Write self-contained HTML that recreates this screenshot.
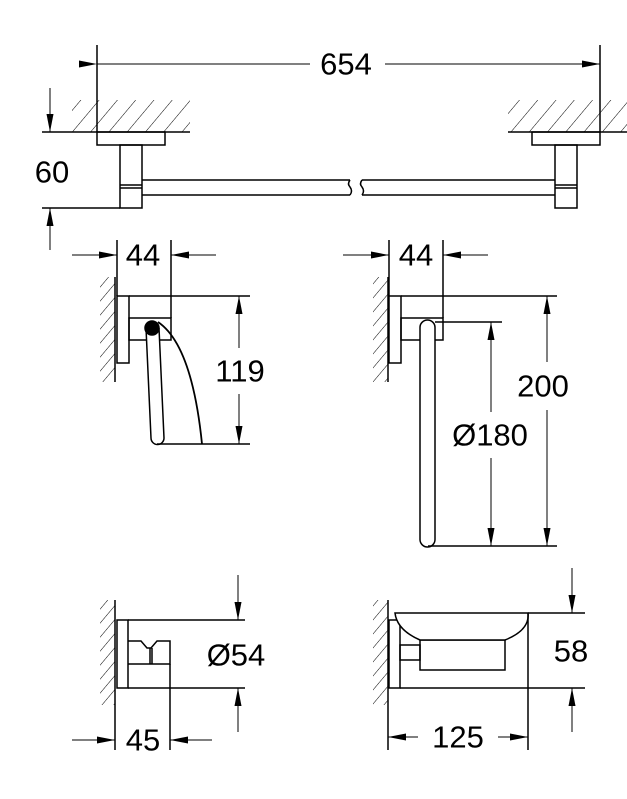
<!DOCTYPE html>
<html><head><meta charset="utf-8"><style>
html,body{margin:0;padding:0;background:#fff;}
svg{display:block;}
text{font-family:"Liberation Sans",sans-serif;font-size:31px;fill:#000;text-anchor:middle;dominant-baseline:central;}
</style></head><body>
<svg width="627" height="799" viewBox="0 0 627 799" xmlns="http://www.w3.org/2000/svg">
<defs>
<marker id="a" viewBox="0 0 18 7" refX="18" refY="3.5" markerWidth="18" markerHeight="7" markerUnits="userSpaceOnUse" orient="auto"><path d="M0,0L18,3.5L0,7z" fill="#000"/></marker>
<pattern id="h" width="14" height="14" patternUnits="userSpaceOnUse" patternTransform="rotate(40)"><line x1="0" y1="0" x2="0" y2="14" stroke="#000" stroke-width="1"/></pattern>
<pattern id="v" width="9" height="9" patternUnits="userSpaceOnUse" patternTransform="rotate(40)"><line x1="0" y1="0" x2="0" y2="9" stroke="#000" stroke-width="1"/></pattern>
</defs>
<g stroke="#000" stroke-width="1.5" fill="none">
<!-- Top towel bar -->
<line x1="97" y1="45" x2="97" y2="132"/><line x1="600" y1="45" x2="600" y2="132"/>
<line x1="97" y1="64" x2="310" y2="64" marker-start="url(#a)" stroke-width="1"/>
<line x1="385" y1="64" x2="600" y2="64" marker-end="url(#a)" stroke-width="1"/>
<rect x="72" y="100" width="118" height="32" fill="url(#h)" stroke="none"/>
<rect x="508" y="100" width="119" height="32" fill="url(#h)" stroke="none"/>
<line x1="42" y1="132" x2="190" y2="132"/><line x1="508" y1="132" x2="627" y2="132"/>
<rect x="97" y="132" width="68" height="13"/><rect x="532" y="132" width="68" height="13"/>
<rect x="120" y="145" width="22" height="63"/><rect x="555" y="145" width="22" height="63"/>
<line x1="120" y1="185" x2="142" y2="185"/><line x1="120" y1="188" x2="142" y2="188"/>
<line x1="555" y1="185" x2="577" y2="185"/><line x1="555" y1="188" x2="577" y2="188"/>
<path d="M142,180L350,180M142,195L350,195M362,180L555,180M362,195L555,195"/>
<path d="M350,180q-3,4 0,7q3,4 0,8M362,180q-3,4 0,7q3,4 0,8"/>
<line x1="42" y1="208" x2="120" y2="208"/>
<line x1="50" y1="88" x2="50" y2="132" marker-end="url(#a)" stroke-width="1"/>
<line x1="50" y1="250" x2="50" y2="208" marker-end="url(#a)" stroke-width="1"/>
<!-- Middle left -->
<rect x="100" y="277" width="15" height="105" fill="url(#v)" stroke="none"/>
<line x1="115" y1="277" x2="115" y2="382"/>
<line x1="117" y1="240" x2="117" y2="296"/><line x1="171" y1="240" x2="171" y2="318"/>
<line x1="72" y1="255" x2="117" y2="255" marker-end="url(#a)" stroke-width="1"/>
<line x1="216" y1="255" x2="171" y2="255" marker-end="url(#a)" stroke-width="1"/>
<rect x="117" y="296" width="12" height="67"/><rect x="129" y="318" width="42" height="22"/>
<line x1="129" y1="296" x2="250" y2="296"/>
<path d="M146,328L151,438a6,6 0 0 0 13,0L159,328" fill="#fff"/>
<circle cx="152" cy="328" r="7" fill="#000"/>
<path d="M158,322Q192,345 202,444" stroke-width="1.8"/>
<line x1="157" y1="444" x2="250" y2="444"/>
<line x1="239" y1="348" x2="239" y2="296" marker-end="url(#a)" stroke-width="1"/>
<line x1="239" y1="394" x2="239" y2="444" marker-end="url(#a)" stroke-width="1"/>
<!-- Middle right -->
<rect x="373" y="277" width="15" height="105" fill="url(#v)" stroke="none"/>
<line x1="388" y1="277" x2="388" y2="382"/>
<line x1="389" y1="240" x2="389" y2="296"/><line x1="443" y1="240" x2="443" y2="318"/>
<line x1="343" y1="255" x2="389" y2="255" marker-end="url(#a)" stroke-width="1"/>
<line x1="488" y1="255" x2="443" y2="255" marker-end="url(#a)" stroke-width="1"/>
<rect x="389" y="296" width="12" height="67"/><rect x="401" y="318" width="42" height="22"/>
<line x1="401" y1="296" x2="557" y2="296"/>
<line x1="435" y1="322" x2="502" y2="322"/>
<rect x="420" y="320" width="15" height="227" rx="7.5" fill="#fff"/>
<line x1="428" y1="546" x2="557" y2="546"/>
<line x1="491" y1="412" x2="491" y2="322" marker-end="url(#a)" stroke-width="1"/>
<line x1="491" y1="458" x2="491" y2="546" marker-end="url(#a)" stroke-width="1"/>
<line x1="547" y1="362" x2="547" y2="296" marker-end="url(#a)" stroke-width="1"/>
<line x1="547" y1="410" x2="547" y2="546" marker-end="url(#a)" stroke-width="1"/>
<!-- Bottom left -->
<rect x="100" y="600" width="15" height="105" fill="url(#v)" stroke="none"/>
<line x1="115" y1="600" x2="115" y2="750"/>
<rect x="117" y="620" width="11" height="68"/>
<path d="M128,641L141,641L147,648L151,648L157,641L170,641L170,664L128,664"/>
<line x1="150" y1="648" x2="150" y2="664"/><line x1="152" y1="648" x2="152" y2="664"/>
<line x1="128" y1="620" x2="245" y2="620"/><line x1="128" y1="688" x2="245" y2="688"/>
<line x1="238" y1="575" x2="238" y2="620" marker-end="url(#a)" stroke-width="1"/>
<line x1="238" y1="732" x2="238" y2="688" marker-end="url(#a)" stroke-width="1"/>
<line x1="170" y1="664" x2="170" y2="750"/>
<line x1="72" y1="740" x2="115" y2="740" marker-end="url(#a)" stroke-width="1"/>
<line x1="212" y1="740" x2="170" y2="740" marker-end="url(#a)" stroke-width="1"/>
<!-- Bottom right -->
<rect x="373" y="600" width="15" height="105" fill="url(#v)" stroke="none"/>
<line x1="388" y1="600" x2="388" y2="750"/>
<rect x="389" y="620" width="11" height="68"/>
<rect x="400" y="645" width="20" height="15"/>
<rect x="420" y="640" width="85" height="30"/>
<path d="M395,613L528,613Q530,630 505,640L420,640Q397,630 395,613Z" fill="#fff"/>
<line x1="528" y1="613" x2="585" y2="613"/><line x1="400" y1="688" x2="585" y2="688"/>
<line x1="572" y1="568" x2="572" y2="613" marker-end="url(#a)" stroke-width="1"/>
<line x1="572" y1="732" x2="572" y2="688" marker-end="url(#a)" stroke-width="1"/>
<line x1="528" y1="613" x2="528" y2="750"/>
<line x1="418" y1="737" x2="388" y2="737" marker-end="url(#a)" stroke-width="1"/>
<line x1="498" y1="737" x2="528" y2="737" marker-end="url(#a)" stroke-width="1"/>
</g>
<text x="346" y="64">654</text>
<text x="52" y="172">60</text>
<text x="143" y="255">44</text>
<text x="416" y="255">44</text>
<text x="240" y="371">119</text>
<text x="543" y="386">200</text>
<text x="490" y="435">Ø180</text>
<text x="236" y="655">Ø54</text>
<text x="143" y="740">45</text>
<text x="571" y="651">58</text>
<text x="458" y="737">125</text>
</svg>
</body></html>
